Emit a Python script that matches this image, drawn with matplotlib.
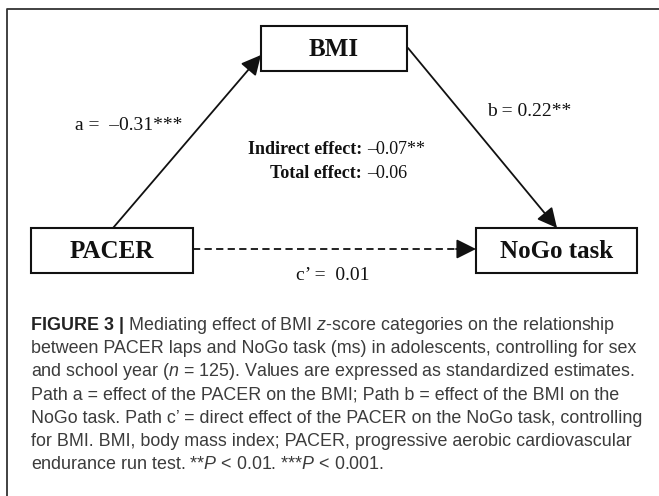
import matplotlib
matplotlib.use('Agg')
import matplotlib.pyplot as plt
from matplotlib.patches import Rectangle

# ---------------------------------------------------------------------------
# diagram content
node_names = ['BMI', 'PACER', 'NoGo task']
path_labels = ['a =  \u20130.31***', 'b = 0.22**', 'c\u2019 =  0.01']
effect_names = ['Indirect effect:', 'Total effect:']
effect_values = ['\u20130.07**', '\u20130.06']
caption_head = 'FIGURE 3 |'
caption_lines = [
    r' Mediating effect of BMI $\mathit{z}$-score categories on the relationship',
    'between PACER laps and NoGo task (ms) in adolescents, controlling for sex',
    r'and school year ($\mathit{n}$ = 125). Values are expressed as standardized estimates.',
    'Path a = effect of the PACER on the BMI; Path b = effect of the BMI on the',
    'NoGo task. Path c\u2019 = direct effect of the PACER on the NoGo task, controlling',
    'for BMI. BMI, body mass index; PACER, progressive aerobic cardiovascular',
    r'endurance run test. **$\mathit{P}$ < 0.01. ***$\mathit{P}$ < 0.001.',
]

# layout (pixel coords, y down)
boxes = {'BMI': (261, 26, 146, 45), 'PACER': (31, 228, 162, 45), 'NoGo task': (476, 228, 161, 45)}
serif = 'Liberation Serif'
sans = 'Liberation Sans'
cap_size = 12.9
ink = '#111111'

plt.rcParams['mathtext.fontset'] = 'custom'
plt.rcParams['mathtext.rm'] = sans
plt.rcParams['mathtext.it'] = sans + ':italic'
plt.rcParams['mathtext.bf'] = sans + ':bold'

fig = plt.figure(figsize=(6.59, 4.96), dpi=100)
ax = fig.add_axes([0, 0, 1, 1])
ax.set_xlim(0, 659)
ax.set_ylim(496, 0)
ax.axis('off')

# outer frame (open on the right / bottom)
ax.plot([7, 7, 659], [496, 9, 9], color='#333333', lw=1.3)

# boxes + names
for name in node_names:
    x, y, w, h = boxes[name]
    ax.add_patch(Rectangle((x, y), w, h, facecolor='white', edgecolor=ink, lw=1.5))
    ax.text(x + w / 2, y + h / 2 + 1, name, ha='center', va='center', family=serif,
            fontweight='bold', fontsize=18, color=ink)

arrow_kw = dict(arrowstyle='-|>', mutation_scale=30, lw=1.3, color=ink, shrinkA=0, shrinkB=0)
# path a : PACER -> BMI
ax.annotate('', xy=(261, 55), xytext=(113, 228), arrowprops=arrow_kw)
# path b : BMI -> NoGo
ax.annotate('', xy=(557, 228), xytext=(408, 48), arrowprops=arrow_kw)
# path c' : dashed
ax.plot([193, 462], [249, 249], color=ink, lw=1.3, ls=(0, (4, 2.4)))
ax.annotate('', xy=(476, 249), xytext=(456, 249), arrowprops=arrow_kw)

# path labels
ax.text(129, 125, path_labels[0], ha='center', va='center', family=serif, fontsize=14, color=ink)
ax.text(529, 112, path_labels[1], ha='center', va='center', family=serif, fontsize=14, color=ink)
ax.text(333, 275, path_labels[2], ha='center', va='center', family=serif, fontsize=14, color=ink)

# effects
for i, (nm, val) in enumerate(zip(effect_names, effect_values)):
    yy = 150 + i * 23
    ax.text(362, yy, nm, ha='right', va='center', family=serif, fontweight='bold', fontsize=13, color=ink)
    ax.text(367, yy, val, ha='left', va='center', family=serif, fontsize=13, color=ink)

# caption
renderer = fig.canvas.get_renderer()
head = ax.text(31, 330, caption_head, ha='left', va='baseline', family=sans, fontweight='bold',
               fontsize=cap_size, color='#222222')
bb = head.get_window_extent(renderer)
head_end = ax.transData.inverted().transform((bb.x1, bb.y0))[0]
for i, line in enumerate(caption_lines):
    x0 = head_end if i == 0 else 31
    ax.text(x0, 330 + i * 23.2, line, ha='left', va='baseline', family=sans,
            fontsize=cap_size, color='#3c3c3c')

fig.savefig('out.png', dpi=100)
